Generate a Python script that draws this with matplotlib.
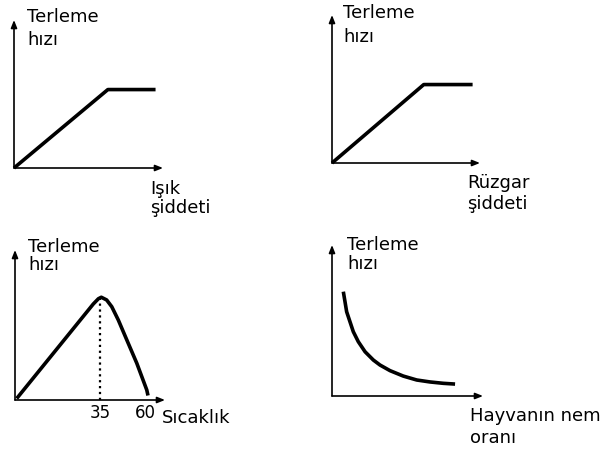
import matplotlib.pyplot as plt

# values (panel units: y axis 0-10)
isik_x = [0, 6.3, 9.5]
isik_y = [0, 5.3, 5.3]

ruzgar_x = [0, 6.2, 9.5]
ruzgar_y = [0, 5.3, 5.3]

sicaklik_x = [0.7, 32.2, 34.3, 35.5, 37.7, 39.8, 42.5, 46.0, 50.1, 54.2, 54.7]
sicaklik_y = [0.1, 6.4, 6.75, 6.85, 6.67, 6.22, 5.33, 4.0, 2.45, 0.67, 0.3]
sicaklik_ticks = [35, 53.5]
sicaklik_labels = ['35', '60']

nem_x = [0.75, 0.86, 0.97, 1.19, 1.41, 1.74, 2.19, 2.74, 3.18, 3.84, 4.72, 5.61, 6.49, 7.37, 8.15]
nem_y = [6.91, 6.25, 5.58, 4.92, 4.26, 3.6, 2.93, 2.38, 2.05, 1.68, 1.32, 1.06, 0.93, 0.84, 0.79]

W, H = 607, 453
fig = plt.figure(figsize=(W / 100, H / 100), dpi=100)


def px_axes(x0, y0, w, h):
    # origin given in pixels from the top-left corner
    ax = fig.add_axes([x0 / W, 1 - y0 / H, w / W, h / H])
    ax.axis('off')
    arrow = dict(arrowstyle='-|>,head_length=0.45,head_width=0.18', color='black', lw=1.2,
                 shrinkA=0, shrinkB=0)
    ax.annotate('', xy=(1, 0), xytext=(0, 0), xycoords='axes fraction', arrowprops=arrow)
    ax.annotate('', xy=(0, 1), xytext=(0, 0), xycoords='axes fraction', arrowprops=arrow)
    ax.set_ylim(0, 10)
    return ax


def label(x, y, s, **kw):
    fig.text(x / W, 1 - y / H, s, fontsize=13, va='top', **kw)


lw = 2.6
style = dict(color='black', lw=lw, solid_capstyle='butt', solid_joinstyle='round', clip_on=False)

# 1. Işık şiddeti
ax1 = px_axes(14, 168, 149, 148)
ax1.set_xlim(0, 10)
ax1.plot(isik_x, isik_y, **style)
label(27, 8, 'Terleme')
label(27, 31, 'hızı')
label(150, 180, 'Işık')
label(150, 199, 'şiddeti')

# 2. Rüzgar şiddeti
ax2 = px_axes(332, 163, 148, 148)
ax2.set_xlim(0, 10)
ax2.plot(ruzgar_x, ruzgar_y, **style)
label(343, 4, 'Terleme')
label(343, 28, 'hızı')
label(467, 174, 'Rüzgar')
label(467, 195, 'şiddeti')

# 3. Sıcaklık
ax3 = px_axes(15, 400, 150, 150)
ax3.set_xlim(0, 61.7)
ax3.plot(sicaklik_x, sicaklik_y, **style)
ax3.vlines(35, 0, max(sicaklik_y), colors='black', linestyles=':', lw=1.6)
for t, s in zip(sicaklik_ticks, sicaklik_labels):
    ax3.text(t, -0.3, s, fontsize=12, ha='center', va='top')
label(28, 238, 'Terleme')
label(28, 256, 'hızı')
label(162, 409, 'Sıcaklık')

# 4. Hayvanın nem oranı
ax4 = px_axes(332, 396, 151, 151)
ax4.set_xlim(0, 10)
ax4.plot(nem_x, nem_y, **style)
label(347, 236, 'Terleme')
label(347, 255, 'hızı')
label(470, 407, 'Hayvanın nem')
label(470, 429, 'oranı')

plt.savefig('out.png', dpi=100)
